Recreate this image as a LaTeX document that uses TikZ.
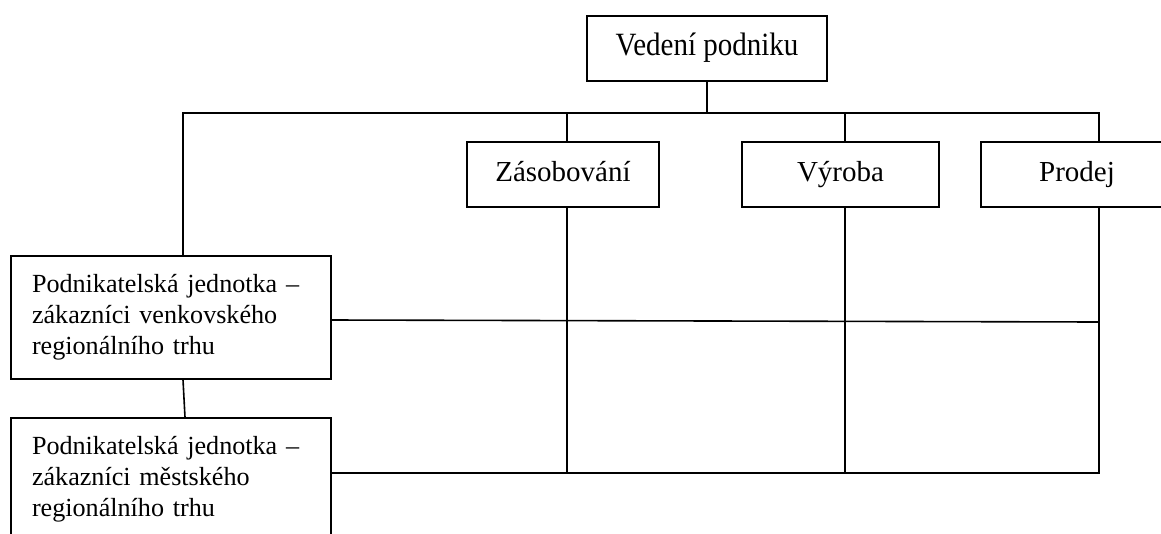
\documentclass[tikz,border=0pt]{standalone}
\usepackage{fontspec}
\usepackage{graphicx}
\setmainfont{Liberation Serif}
\usetikzlibrary{calc}
\begin{document}
\begin{tikzpicture}[x=0.75pt,y=-0.75pt,
  conn/.style={line width=1.2pt, line cap=rect},
  unitbox/.style={draw, line width=1.2pt, inner sep=0pt, align=center,
    text height=14.5pt, text depth=4.75pt,
    font=\fontsize{21.75}{25}\selectfont},
  dept/.style={unitbox, minimum height=48.75pt},
  bunit/.style={draw, line width=1.2pt, inner xsep=15.75pt, inner ysep=0pt,
    text width=208.5pt, minimum height=92.25pt, align=left,
    font=\fontsize{19.6}{23.25}\selectfont}]
\useasboundingbox (0,0) rectangle (1161,533);
\clip (0,0) rectangle (1161,533);

% top management and the functional departments
\node[unitbox, minimum width=180pt, minimum height=48.75pt] (vedeni) at (707,48.5)
  {\scalebox{1}[1.12]{Vedení podniku}};
\node[dept, minimum width=144pt] (zas) at (563,174.5) {Zásobování};
\node[dept, minimum width=147.75pt] (vyr) at (840.5,174.5) {Výroba};
\node[dept, minimum width=144pt] (pro) at (1077,174.5) {Prodej};

% business units
\node[bunit] (pj1) at (171,317.5) {Podnikatelská jednotka –\\zákazníci venkovského\\regionálního trhu};
\node[bunit] (pj2) at (171,479.5) {Podnikatelská jednotka –\\zákazníci městského\\regionálního trhu};

% bus and column positions
\coordinate (bL) at (183,113);
\coordinate (bR) at (1099,113);
\coordinate (cz) at (567,0);
\coordinate (cv) at (845,0);
\coordinate (midR) at (1099,322);
\coordinate (lowR) at (1099,473);

% management to the bus
\draw[conn] (vedeni.south) -- (vedeni.south |- bL);
\draw[conn] (pj1.north -| bL) -- (bL) -- (bR) -- (pro.north -| bR);
\draw[conn] (bL -| cz) -- (zas.north -| cz);
\draw[conn] (bL -| cv) -- (vyr.north -| cv);

% department columns
\draw[conn] (zas.south -| cz) -- (lowR -| cz);
\draw[conn] (vyr.south -| cv) -- (lowR -| cv);
\draw[conn] (pro.south -| bR) -- (lowR);

% business unit rows
\draw[conn] ($(pj1.east)+(0,2.5)$) -- (midR);
\draw[conn] (pj2.east |- lowR) -- (lowR);
\draw[conn] ($(pj1.south)+(12,0)$) -- ($(pj2.north)+(14,0)$);
\end{tikzpicture}
\end{document}
